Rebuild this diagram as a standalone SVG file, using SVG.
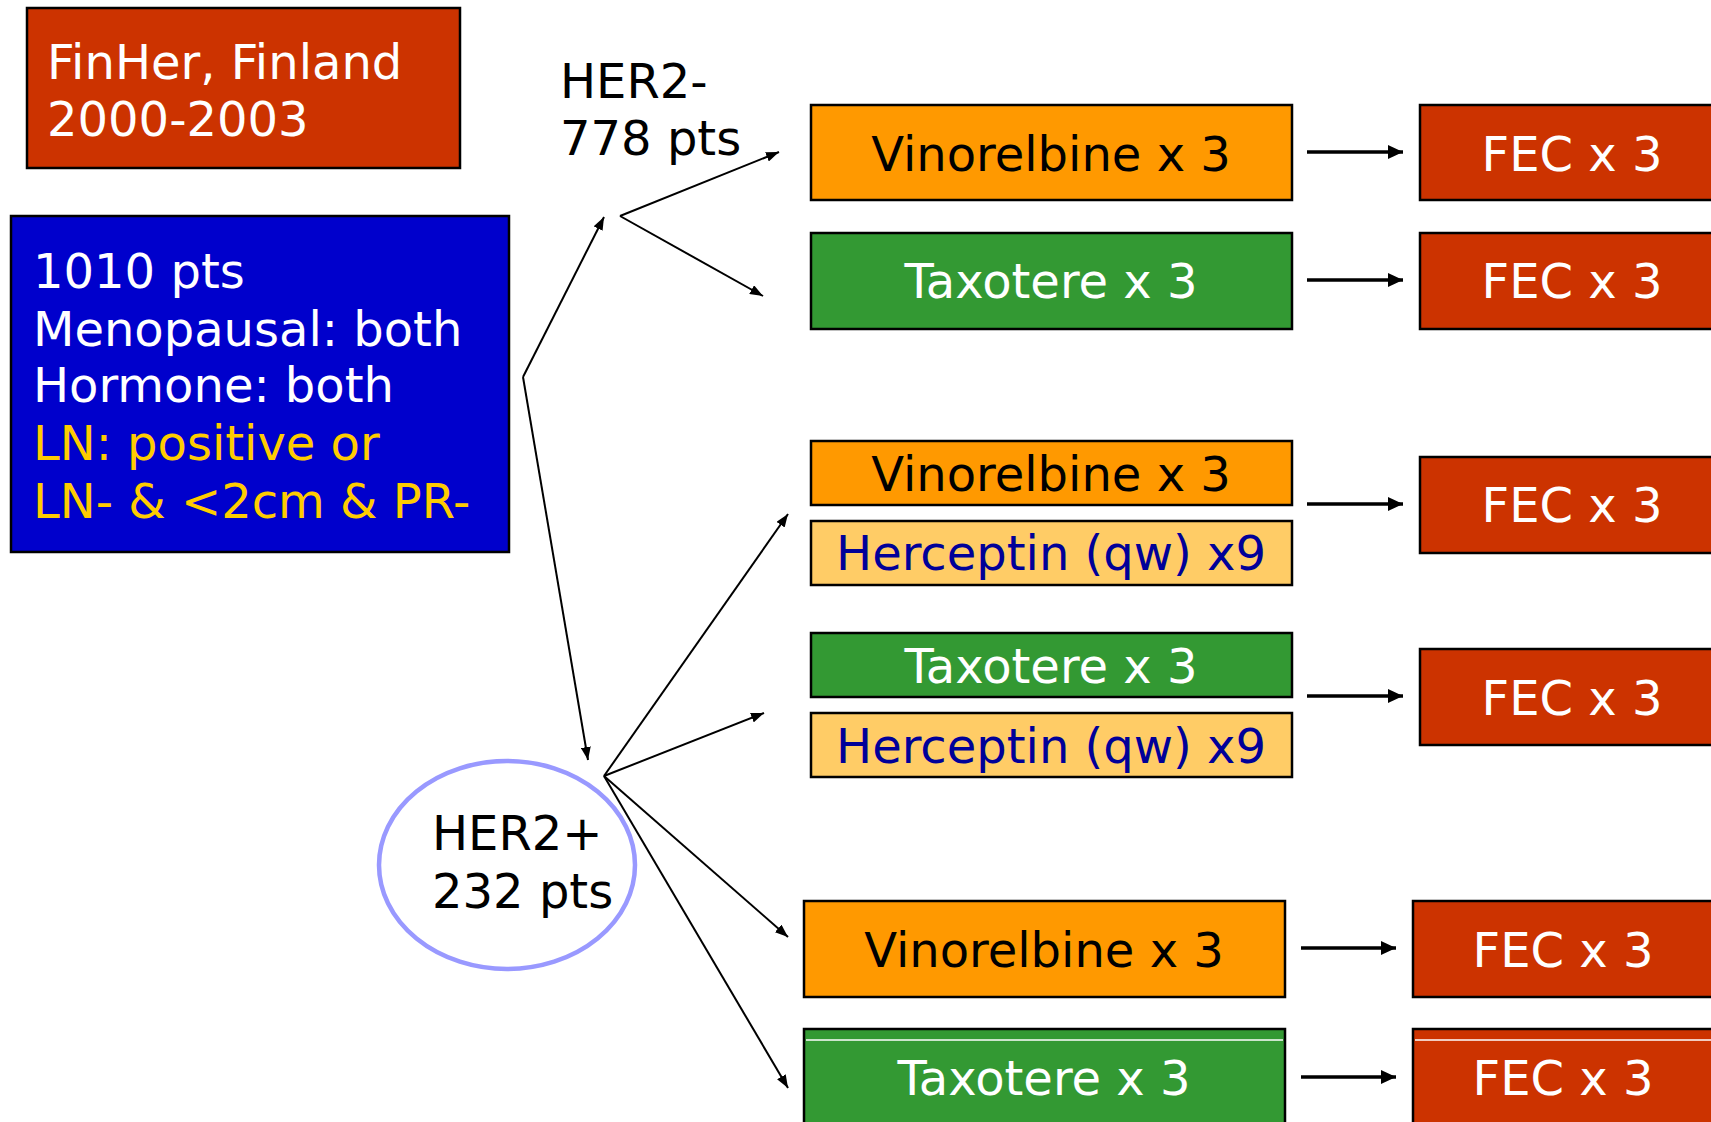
<svg xmlns="http://www.w3.org/2000/svg" width="1711" height="1122" viewBox="0 0 1711 1122">
<style>
text{font-family:"DejaVu Sans","Verdana",sans-serif;font-size:48px}
.box{stroke:#000;stroke-width:2.5}
.fec{fill:#CC3300}
.vin{fill:#FF9900}
.tax{fill:#339933}
.her{fill:#FFCC66}
.w{fill:#fff}
.k{fill:#000}
.y{fill:#FFCC00}
.hb{fill:#000099}
.c{text-anchor:middle}
.thin{stroke:#000;stroke-width:2;fill:none;marker-end:url(#ah)}
.thick{stroke:#000;stroke-width:3.5;fill:none;marker-end:url(#ahb)}
</style>
<defs>
<marker id="ah" markerUnits="userSpaceOnUse" markerWidth="14" markerHeight="10" refX="13" refY="5" orient="auto"><path d="M0,0 L13,5 L0,10 Z" fill="#000"/></marker>
<marker id="ahb" markerUnits="userSpaceOnUse" markerWidth="16" markerHeight="14" refX="15" refY="7" orient="auto"><path d="M0,0 L15,7 L0,14 Z" fill="#000"/></marker>
</defs>
<rect width="1711" height="1122" fill="#fff"/>
<g id="finher"><rect class="box fec" x="27" y="8" width="433" height="160"/><text class="w" x="47" y="79">FinHer, Finland</text><text class="w" x="47" y="136">2000-2003</text></g>
<g id="population"><rect class="box" fill="#0000CC" x="11" y="216" width="498" height="336"/><text class="w" x="33" y="288">1010 pts</text><text class="w" x="33" y="346">Menopausal: both</text><text class="w" x="33" y="402">Hormone: both</text><text class="y" x="33" y="460">LN: positive or</text><text class="y" x="33" y="518">LN- &amp; &lt;2cm &amp; PR-</text></g>
<g id="her2neg"><text class="k" x="560" y="98">HER2-</text><text class="k" x="560" y="155">778 pts</text></g>
<g id="her2pos"><ellipse cx="507" cy="865" rx="128" ry="104" fill="#fff" stroke="#9999FF" stroke-width="4.5"/><text class="k" x="432" y="850">HER2+</text><text class="k" x="432" y="908">232 pts</text></g>
<g id="vin1"><rect class="box vin" x="811" y="105" width="481" height="95"/><text class="k c" x="1051" y="171">Vinorelbine x 3</text></g>
<g id="tax1"><rect class="box tax" x="811" y="233" width="481" height="96"/><text class="w c" x="1051" y="298">Taxotere x 3</text></g>
<g id="vin2"><rect class="box vin" x="811" y="441" width="481" height="64"/><text class="k c" x="1051" y="491">Vinorelbine x 3</text></g>
<g id="her1"><rect class="box her" x="811" y="521" width="481" height="64"/><text class="hb c" x="1051" y="570">Herceptin (qw) x9</text></g>
<g id="tax2"><rect class="box tax" x="811" y="633" width="481" height="64"/><text class="w c" x="1051" y="683">Taxotere x 3</text></g>
<g id="her2"><rect class="box her" x="811" y="713" width="481" height="64"/><text class="hb c" x="1051" y="763">Herceptin (qw) x9</text></g>
<g id="vin3"><rect class="box vin" x="804" y="901" width="481" height="96"/><text class="k c" x="1044" y="967">Vinorelbine x 3</text></g>
<g id="tax3"><rect class="box tax" x="804" y="1029" width="481" height="96"/><line x1="806" y1="1040" x2="1283" y2="1040" stroke="#fff" stroke-width="1.5"/><text class="w c" x="1044" y="1095">Taxotere x 3</text></g>
<g id="fec1"><rect class="box fec" x="1420" y="105" width="305" height="95"/><text class="w c" x="1572" y="171">FEC x 3</text></g>
<g id="fec2"><rect class="box fec" x="1420" y="233" width="305" height="96"/><text class="w c" x="1572" y="298">FEC x 3</text></g>
<g id="fec3"><rect class="box fec" x="1420" y="457" width="305" height="96"/><text class="w c" x="1572" y="522">FEC x 3</text></g>
<g id="fec4"><rect class="box fec" x="1420" y="649" width="305" height="96"/><text class="w c" x="1572" y="715">FEC x 3</text></g>
<g id="fec5"><rect class="box fec" x="1413" y="901" width="305" height="96"/><text class="w c" x="1563" y="967">FEC x 3</text></g>
<g id="fec6"><rect class="box fec" x="1413" y="1029" width="305" height="96"/><line x1="1415" y1="1040" x2="1711" y2="1040" stroke="#fff" stroke-width="1.5"/><text class="w c" x="1563" y="1095">FEC x 3</text></g>
<g id="connectors">
<path class="thin" d="M523,377 L604,217"/>
<path class="thin" d="M523,377 L588,760"/>
<path class="thin" d="M620,216 L779,152"/>
<path class="thin" d="M620,216 L763,296"/>
<path class="thin" d="M604,776 L788,514"/>
<path class="thin" d="M604,776 L764,713"/>
<path class="thin" d="M604,776 L788,937"/>
<path class="thin" d="M604,776 L788,1088"/>
<path class="thick" d="M1307,152 L1403,152"/>
<path class="thick" d="M1307,280 L1403,280"/>
<path class="thick" d="M1307,504 L1403,504"/>
<path class="thick" d="M1307,696 L1403,696"/>
<path class="thick" d="M1301,948 L1396,948"/>
<path class="thick" d="M1301,1077 L1396,1077"/>
</g>
</svg>
